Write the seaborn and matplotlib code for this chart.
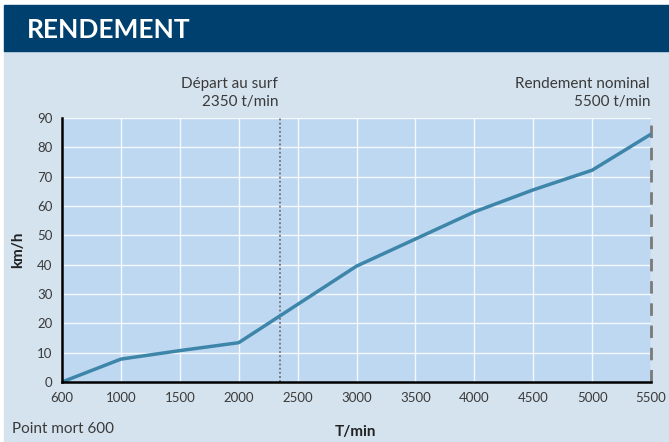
import numpy as np
import pandas as pd
import matplotlib
matplotlib.use("Agg")
import matplotlib.pyplot as plt
import seaborn as sns
from matplotlib.patches import Rectangle


# Data (speed in km/h at each rpm tick)
RPM_LABELS = ["600", "1000", "1500", "2000", "2500", "3000", "3500",
              "4000", "4500", "5000", "5500"]
RPM_POINTS = ["600", "1000", "1500", "2000", "3000", "4000", "4500", "5000", "5500"]
SPEED_KMH = [0, 7.8, 10.7, 13.4, 39.5, 58, 65.5, 72.2, 84.5]

SURF_RPM = 2350
NOMINAL_RPM = 5500

# Colours
HEADER_BLUE = "#00406e"
PAGE_BG = "#d5e3ee"
PLOT_BG = "#bed8f2"
LINE_BLUE = "#3e86a9"
TEXT_GREY = "#3a3a3a"


# Map an rpm value to its position on the evenly spaced tick axis
def rpm_to_position(rpm):
    tick_values = [int(v) for v in RPM_LABELS]
    return float(np.interp(rpm, tick_values, np.arange(len(tick_values))))


def build_dataframe():
    dataframe = pd.DataFrame({"rpm": [int(v) for v in RPM_POINTS], "speed": SPEED_KMH})
    dataframe["position"] = dataframe["rpm"].apply(rpm_to_position)
    return dataframe


def draw_chart(dataframe):
    sns.set_style("white")
    plt.rcParams["font.family"] = ["Lato", "DejaVu Sans"]

    fig = plt.figure(figsize=(6.69, 4.42), dpi=100, facecolor="white")

    # page background and header band
    fig.patches.append(Rectangle((4 / 669, 0), 1, (442 - 50) / 442,
                                 transform=fig.transFigure, color=PAGE_BG, zorder=-10))
    fig.patches.append(Rectangle((4 / 669, (442 - 51) / 442), 1, 46 / 442,
                                 transform=fig.transFigure, color=HEADER_BLUE, zorder=-10))
    fig.text(27 / 669, 1 - 30 / 442, "RENDEMENT", color="white", fontsize=19,
             fontweight="bold", va="center", ha="left")

    ax = fig.add_axes([62 / 669, 1 - 382 / 442, (651 - 62) / 669, (382 - 118) / 442])
    ax.set_facecolor(PLOT_BG)

    sns.lineplot(data=dataframe, x="position", y="speed", ax=ax, color=LINE_BLUE,
                 linewidth=2.5, zorder=3)

    ax.set_xlim(0, len(RPM_LABELS) - 1)
    ax.set_ylim(0, 90)
    ax.set_xticks(np.arange(len(RPM_LABELS)))
    ax.set_xticklabels(RPM_LABELS)
    ax.set_yticks(np.arange(0, 91, 10))

    ax.grid(True, color="white", linewidth=1.0, alpha=0.85)
    ax.set_axisbelow(True)

    for side in ["top", "right"]:
        ax.spines[side].set_visible(False)
    for side in ["left", "bottom"]:
        ax.spines[side].set_color("black")
        ax.spines[side].set_linewidth(1.8)
        ax.spines[side].set_zorder(4)
    ax.tick_params(axis="both", direction="inout", length=8, width=1.8,
                   color="black", labelsize=9.5, labelcolor=TEXT_GREY, pad=3)

    # marker lines
    ax.axvline(rpm_to_position(SURF_RPM), color="#707070", linestyle=(0, (1, 1.3)),
               linewidth=1.3, zorder=2)
    ax.axvline(rpm_to_position(NOMINAL_RPM), color="#7a7a7a", linestyle=(0, (4.5, 3.5)),
               linewidth=2.0, zorder=2, clip_on=False)

    ax.set_xlabel("")
    ax.set_ylabel("")
    fig.text(355 / 669, 1 - 432 / 442, "T/min", fontsize=11, fontweight="bold",
             color="#222222", ha="center", va="center")
    fig.text(18 / 669, 1 - 250 / 442, "km/h", fontsize=11, fontweight="bold",
             color="#222222", ha="center", va="center", rotation=90)
    fig.text(12 / 669, 1 - 429 / 442, "Point mort 600", fontsize=11,
             color=TEXT_GREY, ha="left", va="center")

    fig.text(278 / 669, 1 - 93 / 442, "Départ au surf\n2350 t/min", fontsize=11,
             color=TEXT_GREY, ha="right", va="center", linespacing=1.3)
    fig.text(650 / 669, 1 - 93 / 442, "Rendement nominal\n5500 t/min", fontsize=11,
             color=TEXT_GREY, ha="right", va="center", linespacing=1.3)

    fig.savefig("out.png", dpi=100, facecolor=fig.get_facecolor())


def main():
    dataframe = build_dataframe()
    draw_chart(dataframe)


if __name__ == "__main__":
    main()
